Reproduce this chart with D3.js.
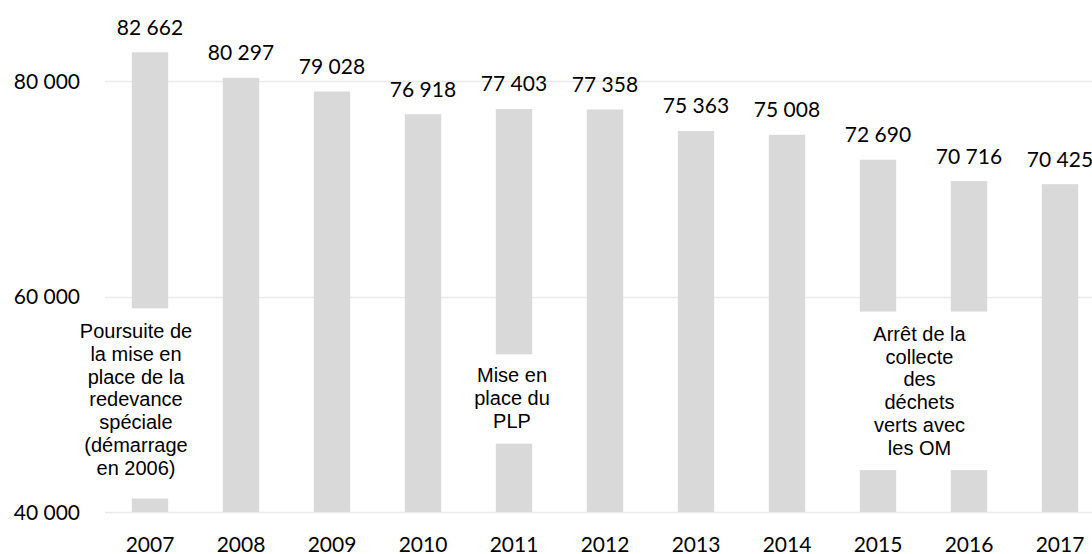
<!DOCTYPE html>
<html>
<head>
<meta charset="utf-8">
<script src="https://cdn.jsdelivr.net/npm/d3@7"></script>
<style>
  body { margin: 0; background: #fff; }
  svg { display: block; }
</style>
</head>
<body>
<svg></svg>
<script>
// Tonnages per year
var years = ['2007', '2008', '2009', '2010', '2011', '2012', '2013', '2014', '2015', '2016', '2017']
var values = [82662, 80297, 79028, 76918, 77403, 77358, 75363, 75008, 72690, 70716, 70425]
var valueLabels = ['82 662', '80 297', '79 028', '76 918', '77 403', '77 358', '75 363', '75 008', '72 690', '70 716', '70 425']
var yTicks = [40000, 60000, 80000]
var yTickLabels = ['40 000', '60 000', '80 000']

// Annotations: text lines and the years they sit on
var noteLines = [
    ['Poursuite de', 'la mise en', 'place de la', 'redevance', 'spéciale', '(démarrage', 'en 2006)'],
    ['Mise en', 'place du', 'PLP'],
    ['Arrêt de la', 'collecte', 'des', 'déchets', 'verts avec', 'les OM']
]
var noteYears = [['2007'], ['2011'], ['2015', '2016']]

document.addEventListener("DOMContentLoaded", function(event) {
    drawChart()
});

function drawChart() {
    var svgWidth = 1092, svgHeight = 554;
    var svg = d3.select('svg')
        .attr("width", svgWidth)
        .attr("height", svgHeight);

    var x = d3.scaleBand()
        .domain(years)
        .range([104.5, 1105.5])
        .paddingInner(0.6)
        .paddingOuter(0.3);
    var y = d3.scaleLinear()
        .domain([40000, 80000])
        .range([512, 81]);

    var numFont = "Lato, 'Open Sans', sans-serif";

    // Gridlines
    svg.append("g")
        .selectAll("line")
        .data(yTicks)
        .join("line")
        .attr("x1", 105)
        .attr("x2", svgWidth)
        .attr("y1", function(d) { return Math.round(y(d)) + 0.5 })
        .attr("y2", function(d) { return Math.round(y(d)) + 0.5 })
        .attr("stroke", "#e9e9e9")
        .attr("stroke-width", 1.5);

    // Y axis labels
    svg.append("g")
        .selectAll("text")
        .data(yTicks)
        .join("text")
        .attr("x", 80)
        .attr("y", function(d) { return y(d) })
        .attr("dy", "0.36em")
        .attr("text-anchor", "end")
        .attr("font-family", numFont)
        .attr("font-size", "21px")
        .attr("fill", "#000")
        .text(function(d, i) { return yTickLabels[i] });

    // Bars
    svg.append("g")
        .selectAll("rect")
        .data(values)
        .join("rect")
        .attr("x", function(d, i) { return x(years[i]) })
        .attr("width", x.bandwidth())
        .attr("y", function(d) { return y(d) })
        .attr("height", function(d) { return y(40000) - y(d) })
        .attr("fill", "#d9d9d9");

    // Value labels
    svg.append("g")
        .selectAll("text")
        .data(values)
        .join("text")
        .attr("x", function(d, i) { return x(years[i]) + x.bandwidth() / 2 })
        .attr("y", function(d) { return y(d) - 17.5 })
        .attr("text-anchor", "middle")
        .attr("font-family", numFont)
        .attr("font-size", "21px")
        .attr("fill", "#000")
        .text(function(d, i) { return valueLabels[i] });

    // X axis labels
    svg.append("g")
        .selectAll("text")
        .data(years)
        .join("text")
        .attr("x", function(d) { return x(d) + x.bandwidth() / 2 })
        .attr("y", 551.5)
        .attr("text-anchor", "middle")
        .attr("font-family", numFont)
        .attr("font-size", "21px")
        .attr("fill", "#000")
        .text(function(d) { return d });

    // Annotation boxes (white, covering the bars), layout per note
    var noteLayout = [
        { top: 58900, dx: -14, w: 132, padTop: 30, padBottom: 24 },
        { top: 54640, dx: -2, w: 100, padTop: 28, padBottom: 16 },
        { top: 58600, dx: -4, w: 190, padTop: 29.5, padBottom: 15.5 }
    ];
    var lineH = 22.7;
    var notes = svg.append("g");
    noteLines.forEach(function(lines, k) {
        var ys = noteYears[k];
        var cx = (x(ys[0]) + x(ys[ys.length - 1]) + x.bandwidth()) / 2 + noteLayout[k].dx;
        var top = y(noteLayout[k].top);
        var firstBase = top + noteLayout[k].padTop;
        var bottom = firstBase + (lines.length - 1) * lineH + noteLayout[k].padBottom;
        notes.append("rect")
            .attr("x", cx - noteLayout[k].w / 2)
            .attr("y", top)
            .attr("width", noteLayout[k].w)
            .attr("height", bottom - top)
            .attr("fill", "#fff");
        notes.append("g")
            .selectAll("text")
            .data(lines)
            .join("text")
            .attr("x", cx)
            .attr("y", function(d, i) { return firstBase + i * lineH })
            .attr("text-anchor", "middle")
            .attr("font-family", "'Liberation Sans', Arial, sans-serif")
            .attr("font-size", "20px")
            .attr("fill", "#000")
            .text(function(d) { return d });
    });
}
</script>
</body>
</html>
